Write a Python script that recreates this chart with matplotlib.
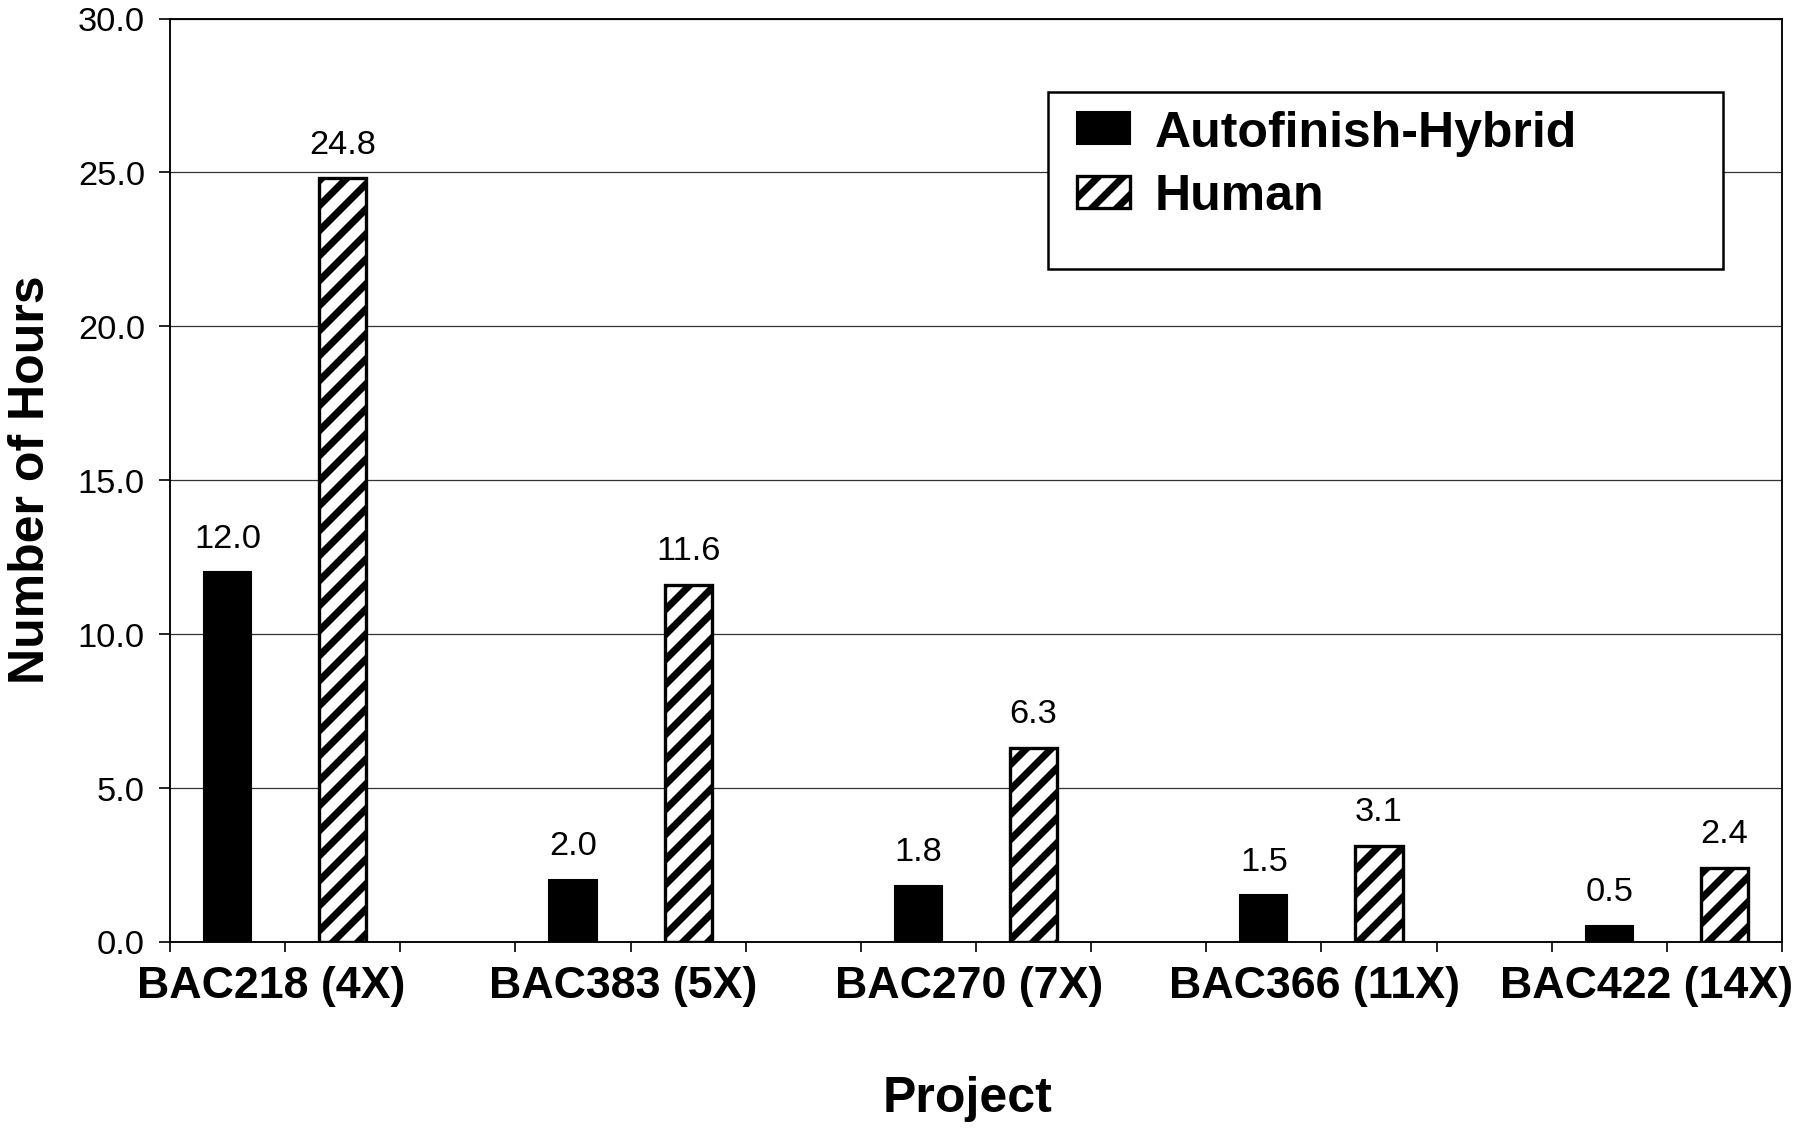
import matplotlib
matplotlib.use("Agg")
import matplotlib.pyplot as plt
import numpy as np
from matplotlib.patches import Rectangle

# data
projects = ["BAC218 (4X)", "BAC383 (5X)", "BAC270 (7X)", "BAC366 (11X)", "BAC422 (14X)"]
autofinish = [12.0, 2.0, 1.8, 1.5, 0.5]
human = [24.8, 11.6, 6.3, 3.1, 2.4]
series_names = ["Autofinish-Hybrid", "Human"]
y_ticks = [0, 5, 10, 15, 20, 25, 30]

plt.rcParams["font.family"] = ["Liberation Sans", "DejaVu Sans"]
plt.rcParams["hatch.linewidth"] = 3.4
plt.rcParams["hatch.color"] = "black"

fig = plt.figure(figsize=(12, 7.5333), dpi=150)
ax = fig.add_axes([170 / 1800, 1 - 942.5 / 1130, 1612 / 1800, 923 / 1130])

# each project takes three slots: black bar, hatched bar, gap
idx = np.arange(len(projects))
x_auto = 3 * idx + 0.5
x_human = 3 * idx + 1.5
bw = 0.41

ax.set_axisbelow(True)
ax.yaxis.grid(True, color="#333333", linewidth=0.6)

ax.bar(x_auto, autofinish, width=bw, color="black", edgecolor="black",
       linewidth=1.0, label=series_names[0], zorder=3)
ax.bar(x_human, human, width=bw, color="white", edgecolor="black",
       hatch="//", linewidth=1.6, label=series_names[1], zorder=3)

for xs, vals in ((x_auto, autofinish), (x_human, human)):
    for x, v in zip(xs, vals):
        ax.annotate(f"{v:.1f}", (x, v), xytext=(0, 9), textcoords="offset points",
                    ha="center", va="bottom", fontsize=16.5)

ax.set_xlim(0, 14)
ax.set_ylim(0, 30)
ax.set_xticks(np.arange(0, 15))
ax.set_xticklabels([])
ax.set_yticks(y_ticks)
ax.set_yticklabels([f"{t:.1f}" for t in y_ticks], fontsize=16.5)
ax.tick_params(axis="y", direction="out", length=5.5, width=0.8, pad=6.5)
ax.tick_params(axis="x", direction="out", length=5, width=0.8)
for sp in ax.spines.values():
    sp.set_linewidth(0.9)

for i, name in enumerate(projects):
    xc = 1 + 3 * i - 0.06
    ha = "center"
    if i == 0:
        xc -= 0.06
    if i == len(projects) - 1:
        xc, ha = 14.1, "right"
    ax.text(xc, -0.025, name, transform=ax.get_xaxis_transform(),
            ha=ha, va="top", fontsize=21.5, fontweight="bold")

fig.text(968 / 1800, 1 - 1099 / 1130, "Project", ha="center", va="center",
         fontsize=24, fontweight="bold")
fig.text(31 / 1800, 1 - 480 / 1130, "Number of Hours", rotation=90,
         ha="center", va="center", fontsize=24, fontweight="bold")

# legend box drawn separately, it is taller than its entries
ax.add_patch(Rectangle((0.5447, 0.7286), 0.9634 - 0.5447, 0.920 - 0.7286,
                       transform=ax.transAxes, facecolor="white",
                       edgecolor="black", linewidth=1.2, zorder=4))
leg = ax.legend(loc="upper left", bbox_to_anchor=(0.5627, 0.901), frameon=False,
                fontsize=24, borderpad=0, borderaxespad=0, handlelength=1.05,
                handleheight=0.62, handletextpad=0.5, labelspacing=0.35)
leg.set_zorder(5)
for t in leg.get_texts():
    t.set_fontweight("bold")

fig.savefig("out.png", dpi=150, facecolor="white")
